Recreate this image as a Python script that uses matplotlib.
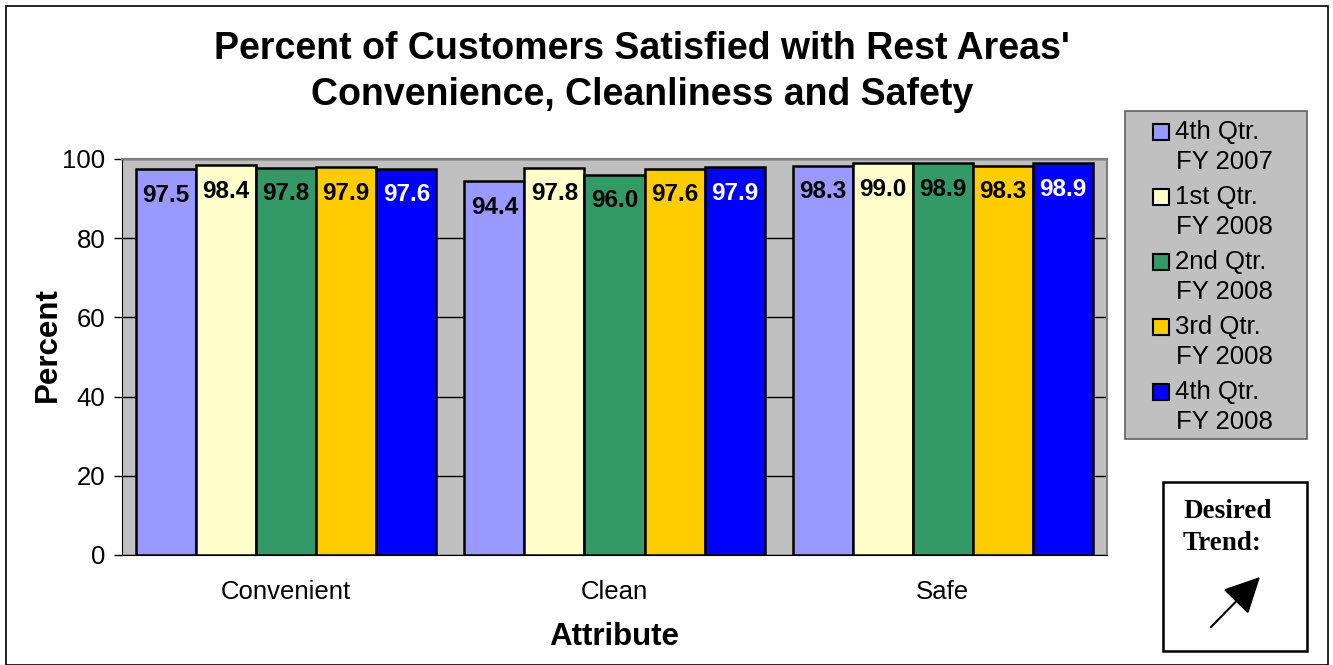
import matplotlib
matplotlib.use("Agg")
import matplotlib.pyplot as plt
from matplotlib.patches import Rectangle, FancyArrowPatch
import numpy as np

plt.rcParams['font.family'] = ['Liberation Sans', 'DejaVu Sans']

title = "Percent of Customers Satisfied with Rest Areas'\nConvenience, Cleanliness and Safety"
categories = ["Convenient", "Clean", "Safe"]
series_names = ["4th Qtr.\nFY 2007", "1st Qtr.\nFY 2008", "2nd Qtr.\nFY 2008",
                "3rd Qtr.\nFY 2008", "4th Qtr.\nFY 2008"]
q4_fy2007 = [97.5, 94.4, 98.3]
q1_fy2008 = [98.4, 97.8, 99.0]
q2_fy2008 = [97.8, 96.0, 98.9]
q3_fy2008 = [97.9, 97.6, 98.3]
q4_fy2008 = [97.6, 97.9, 98.9]
series_values = [q4_fy2007, q1_fy2008, q2_fy2008, q3_fy2008, q4_fy2008]
colors = ["#9999FF", "#FFFFCC", "#339966", "#FFCC00", "#0000FF"]
label_colors = ["black", "black", "black", "black", "white"]
yticks = [0, 20, 40, 60, 80, 100]

W, H = 1333, 665
fig = plt.figure(figsize=(W / 100, H / 100), dpi=100)
fig.patch.set_facecolor("white")


def fx(px):
    return px / W


def fy(py):
    return 1 - py / H


# figure border
fig.add_artist(Rectangle((fx(6), 0), 1322 / W, 1 - 6 / H, transform=fig.transFigure,
                         fill=False, edgecolor="black", linewidth=1.2))

ax = fig.add_axes([fx(122), fy(555), 985 / W, 396 / H])
ax.set_facecolor("#C0C0C0")
ax.set_xlim(-0.5, len(categories) - 0.5)
ax.set_ylim(0, 100)

n = len(series_values)
bw = 60 / 328
x = np.arange(len(categories))
for i, (vals, c, lc) in enumerate(zip(series_values, colors, label_colors)):
    pos = x + (i - (n - 1) / 2) * bw
    ax.bar(pos, vals, width=bw, color=c, edgecolor="black", linewidth=1.8,
           zorder=3)
    for p, v in zip(pos, vals):
        ax.text(p, v - 6.6, f"{v:.1f}", ha="center", va="center", fontsize=17.5,
                fontweight="bold", color=lc, zorder=4)

ax.set_yticks(yticks)
ax.set_yticklabels([str(t) for t in yticks], fontsize=18.5)
ax.set_xticks(x)
ax.set_xticklabels(categories, fontsize=18.5)
ax.tick_params(axis="y", length=6, width=1, pad=6, direction="out")
ax.tick_params(axis="x", length=0, pad=18)
ax.grid(axis="y", color="black", linewidth=1, zorder=0)
for sp in ["top", "right"]:
    ax.spines[sp].set_color("#808080")
    ax.spines[sp].set_linewidth(1.5)
ax.spines["left"].set_color("black")
ax.spines["bottom"].set_color("black")

ax.set_xlabel("Attribute", fontsize=22.5, fontweight="bold", labelpad=13)
ax.set_ylabel("Percent", fontsize=22.5, fontweight="bold", va="center")
ax.yaxis.set_label_coords((48 - 122) / 985, (555 - 345) / 396)

fig.text(fx(642), fy(72), title, ha="center", va="center", fontsize=27,
         fontweight="bold", linespacing=1.36)

# legend (drawn manually to match the Excel layout)
fig.add_artist(Rectangle((fx(1125), fy(439)), 182 / W, 328 / H,
                         transform=fig.transFigure, facecolor="#C0C0C0",
                         edgecolor="#606060", linewidth=1.2))
for i, (name, c) in enumerate(zip(series_names, colors)):
    yc = 132 + 65 * i
    fig.add_artist(Rectangle((fx(1153), fy(yc + 8)), 16 / W, 16 / H,
                             transform=fig.transFigure, facecolor=c,
                             edgecolor="black", linewidth=1.5))
    line1, line2 = name.split("\n")
    fig.text(fx(1175), fy(yc), line1, ha="left", va="center", fontsize=18.5)
    fig.text(fx(1176), fy(yc + 30), line2, ha="left", va="center", fontsize=18.5)

# desired trend box
fig.add_artist(Rectangle((fx(1163), fy(651)), 144 / W, 169 / H,
                         transform=fig.transFigure, fill=True, facecolor="white",
                         edgecolor="black", linewidth=1.8))
fig.text(fx(1183), fy(512), "Desired", ha="left", va="center",
         fontsize=19.5, fontweight="bold", family=["Liberation Serif"])
fig.text(fx(1183), fy(544), "Trend:", ha="left", va="center",
         fontsize=19.5, fontweight="bold", family=["Liberation Serif"])
fig.add_artist(FancyArrowPatch((fx(1211), fy(627)), (fx(1260), fy(577)),
                               transform=fig.transFigure, arrowstyle="-|>,head_length=0.8,head_width=0.4",
                               mutation_scale=28, color="black", linewidth=1.5,
                               shrinkA=0, shrinkB=0))

fig.savefig("out.png", dpi=100)
